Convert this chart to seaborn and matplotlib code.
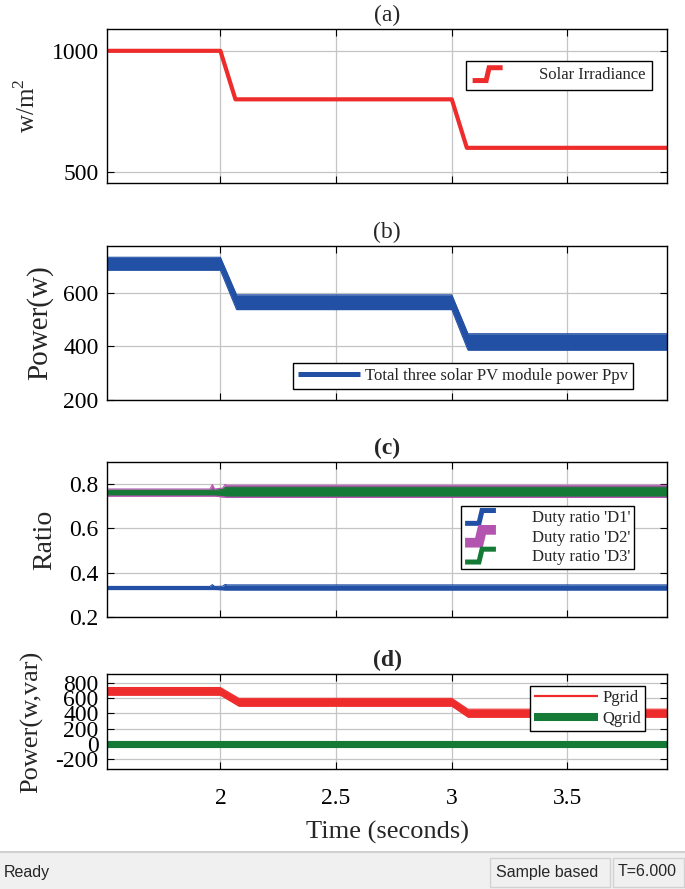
import numpy as np
import pandas as pd
import matplotlib
matplotlib.use("Agg")
import matplotlib.pyplot as plt
from matplotlib.lines import Line2D
from matplotlib.patches import Rectangle
from matplotlib.legend_handler import HandlerBase
import seaborn as sns

# values
t_irr = [1.51, 2.0, 2.065, 3.0, 3.065, 3.93]
irradiance = [1000, 1000, 800, 800, 600, 600]

t_ppv = [1.51, 2.0, 2.07, 3.0, 3.07, 3.93]
ppv_hi = [732, 732, 592, 592, 447, 447]
ppv_lo = [684, 684, 537, 537, 386, 386]

t_duty = [1.51, 1.955, 1.965, 1.975, 2.01, 2.02, 2.03, 3.93]
d1_hi = [0.338, 0.338, 0.346, 0.338, 0.339, 0.347, 0.345, 0.345]
d1_lo = [0.324, 0.324, 0.324, 0.324, 0.323, 0.322, 0.322, 0.322]
d2_hi = [0.778, 0.778, 0.798, 0.778, 0.782, 0.798, 0.795, 0.795]
d2_lo = [0.746, 0.746, 0.746, 0.746, 0.742, 0.741, 0.740, 0.740]
d3_hi = [0.772, 0.772, 0.774, 0.772, 0.776, 0.784, 0.786, 0.786]
d3_lo = [0.752, 0.752, 0.752, 0.752, 0.750, 0.748, 0.747, 0.747]

t_grid = [1.51, 2.0, 2.08, 3.0, 3.07, 3.93]
pgrid_hi = [740, 740, 598, 598, 455, 455]
pgrid_lo = [640, 640, 495, 495, 350, 350]
t_q = [1.51, 3.93]
qgrid_hi = [38, 38]
qgrid_lo = [-42, -42]

x_ticks = [2, 2.5, 3, 3.5]
x_ticklabels = ["2", "2.5", "3", "3.5"]

C_RED = "#EE2C2C"
C_BLUE = "#2150A5"
C_PINK = "#B355B0"
C_GREEN = "#147A36"
C_GRID = "#c4c4c4"

sns.set_style("whitegrid")
plt.rcParams.update({
    "font.family": "Liberation Serif",
    "axes.edgecolor": "black", "axes.linewidth": 1.0,
    "grid.color": C_GRID, "grid.linewidth": 0.9,
    "xtick.direction": "in", "ytick.direction": "in",
    "xtick.top": True, "ytick.right": True,
    "xtick.bottom": True, "ytick.left": True,
    "xtick.major.size": 5, "ytick.major.size": 5,
    "xtick.major.pad": 14, "ytick.major.pad": 6,
    "xtick.color": "black", "ytick.color": "black",
    "xtick.labelsize": 17, "ytick.labelsize": 17,
    "lines.solid_capstyle": "butt",
})


class HandlerStep(HandlerBase):
    def create_artists(self, legend, orig_handle, xdescent, ydescent,
                       width, height, fontsize, trans):
        x0, y0 = -xdescent, -ydescent
        xs = [x0, x0 + 0.45 * width, x0 + 0.55 * width, x0 + width]
        ys = [y0 - 0.1 * height, y0 - 0.1 * height, y0 + height, y0 + height]
        ln = Line2D(xs, ys, color=orig_handle.get_color(),
                    lw=orig_handle.get_linewidth(), solid_joinstyle="miter",
                    solid_capstyle="butt")
        ln.set_transform(trans)
        return [ln]


def band(ax, t, lo, hi, color):
    df = pd.DataFrame({"t": t, "lo": lo, "hi": hi})
    sns.lineplot(data=df, x="t", y="hi", color=color, lw=0.8, ax=ax)
    sns.lineplot(data=df, x="t", y="lo", color=color, lw=0.8, ax=ax)
    ax.fill_between(df["t"], df["lo"], df["hi"], color=color, lw=0)


def style(ax, title, ylabel, ysize, ylab_x, yticks, ylim, bold=False, last=False):
    ax.set_xlim(1.51, 3.93)
    ax.set_ylim(*ylim)
    ax.set_yticks(yticks)
    ax.set_yticklabels([f"{v:g}" for v in yticks])
    ax.set_xticks(x_ticks)
    if last:
        ax.set_xticklabels(x_ticklabels)
        ax.set_xlabel("Time (seconds)", fontsize=19, labelpad=8)
    else:
        ax.set_xticklabels([])
        ax.set_xlabel("")
    ax.set_ylabel(ylabel, fontsize=ysize)
    ax.yaxis.set_label_coords(ylab_x, 0.5)
    ax.set_title(title, fontsize=17, fontweight="bold" if bold else "normal", pad=6)
    ax.grid(True)
    for s in ax.spines.values():
        s.set_color("black")


def leg_kw():
    return dict(frameon=True, fancybox=False, framealpha=1, edgecolor="black",
                fontsize=12, borderaxespad=0)


def proxy(color, lw):
    return Line2D([], [], color=color, lw=lw, solid_capstyle="butt")


fig = plt.figure(figsize=(6.85, 8.89), dpi=100)
H = 889.0
L, W = 107 / 685, 560 / 685

# (a) solar irradiance
ax_a = fig.add_axes([L, (H - 183) / H, W, 154 / H])
sns.lineplot(x=t_irr, y=irradiance, color=C_RED, lw=3, ax=ax_a)
style(ax_a, "(a)", r"w/m$^\mathregular{2}$", 18, -0.12, [500, 1000], (455, 1090))
lg = ax_a.legend([proxy(C_RED, 3.6)], ["Solar Irradiance"],
                 handler_map={Line2D: HandlerStep()},
                 loc="upper left", bbox_to_anchor=(0.641, 0.794),
                 handlelength=1.8, handletextpad=2.2, borderpad=0.4, **leg_kw())
lg.get_frame().set_linewidth(1.0)

# (b) PV power
ax_b = fig.add_axes([L, (H - 400) / H, W, 154 / H])
band(ax_b, t_ppv, ppv_lo, ppv_hi, C_BLUE)
style(ax_b, "(b)", "Power(w)", 21, -0.096, [200, 400, 600], (200, 774))
lg = ax_b.legend([proxy(C_BLUE, 3.6)], ["Total three solar PV module power Ppv"],
                 loc="lower left", bbox_to_anchor=(0.332, 0.071),
                 handlelength=3.7, handletextpad=0.3, borderpad=0.3, **leg_kw())
lg.get_frame().set_linewidth(1.0)

# (c) duty ratios
ax_c = fig.add_axes([L, (H - 617) / H, W, 155 / H])
band(ax_c, t_duty, d2_lo, d2_hi, C_PINK)
band(ax_c, t_duty, d3_lo, d3_hi, C_GREEN)
band(ax_c, t_duty, d1_lo, d1_hi, C_BLUE)
style(ax_c, "(c)", "Ratio", 20, -0.089, [0.2, 0.4, 0.6, 0.8], (0.2, 0.9), bold=True)
hs = [proxy(C_BLUE, 3.6), proxy(C_PINK, 7), proxy(C_GREEN, 3.6)]
lg = ax_c.legend(hs, ["Duty ratio 'D1'", "Duty ratio 'D2'", "Duty ratio 'D3'"],
                 handler_map={Line2D: HandlerStep()},
                 loc="upper left", bbox_to_anchor=(0.632, 0.716),
                 handlelength=1.85, handletextpad=2.15, borderpad=0.25,
                 labelspacing=0.2, **leg_kw())
lg.get_frame().set_linewidth(1.0)

# (d) grid powers
ax_d = fig.add_axes([L, (H - 769) / H, W, 95 / H])
band(ax_d, t_grid, pgrid_lo, pgrid_hi, C_RED)
band(ax_d, t_q, qgrid_lo, qgrid_hi, C_GREEN)
style(ax_d, "(d)", "Power(w,var)", 19, -0.114, [-200, 0, 200, 400, 600, 800],
      (-332, 918), bold=True, last=True)
hs = [proxy(C_RED, 1.6), proxy(C_GREEN, 5.8)]
lg = ax_d.legend(hs, ["Pgrid", "Qgrid"],
                 loc="upper left", bbox_to_anchor=(0.755, 0.874),
                 handlelength=3.85, handletextpad=0.25, borderpad=0.25,
                 labelspacing=0.3, **leg_kw())
lg.get_frame().set_linewidth(1.0)

# status bar strip
sb = fig.add_axes([0, 0, 1, 38 / H])
sb.set_xlim(0, 685)
sb.set_ylim(0, 38)
sb.axis("off")
sb.add_patch(Rectangle((0, 0), 685, 38, facecolor="#f0f0f0", edgecolor="none"))
sb.plot([0, 685], [37.3, 37.3], color="#cfcfcf", lw=1.5)
sb.add_patch(Rectangle((490, 2), 120, 29, facecolor="none", edgecolor="#d2d2d2", lw=1))
sb.add_patch(Rectangle((613, 2), 71, 29, facecolor="none", edgecolor="#d2d2d2", lw=1))
sb.text(4, 17, "Ready", fontsize=11.5, family="Liberation Sans", va="center")
sb.text(496, 17, "Sample based", fontsize=11.5, family="Liberation Sans", va="center")
sb.text(618, 17, "T=6.000", fontsize=11.5, family="Liberation Sans", va="center")

fig.savefig("out.png", dpi=100)
